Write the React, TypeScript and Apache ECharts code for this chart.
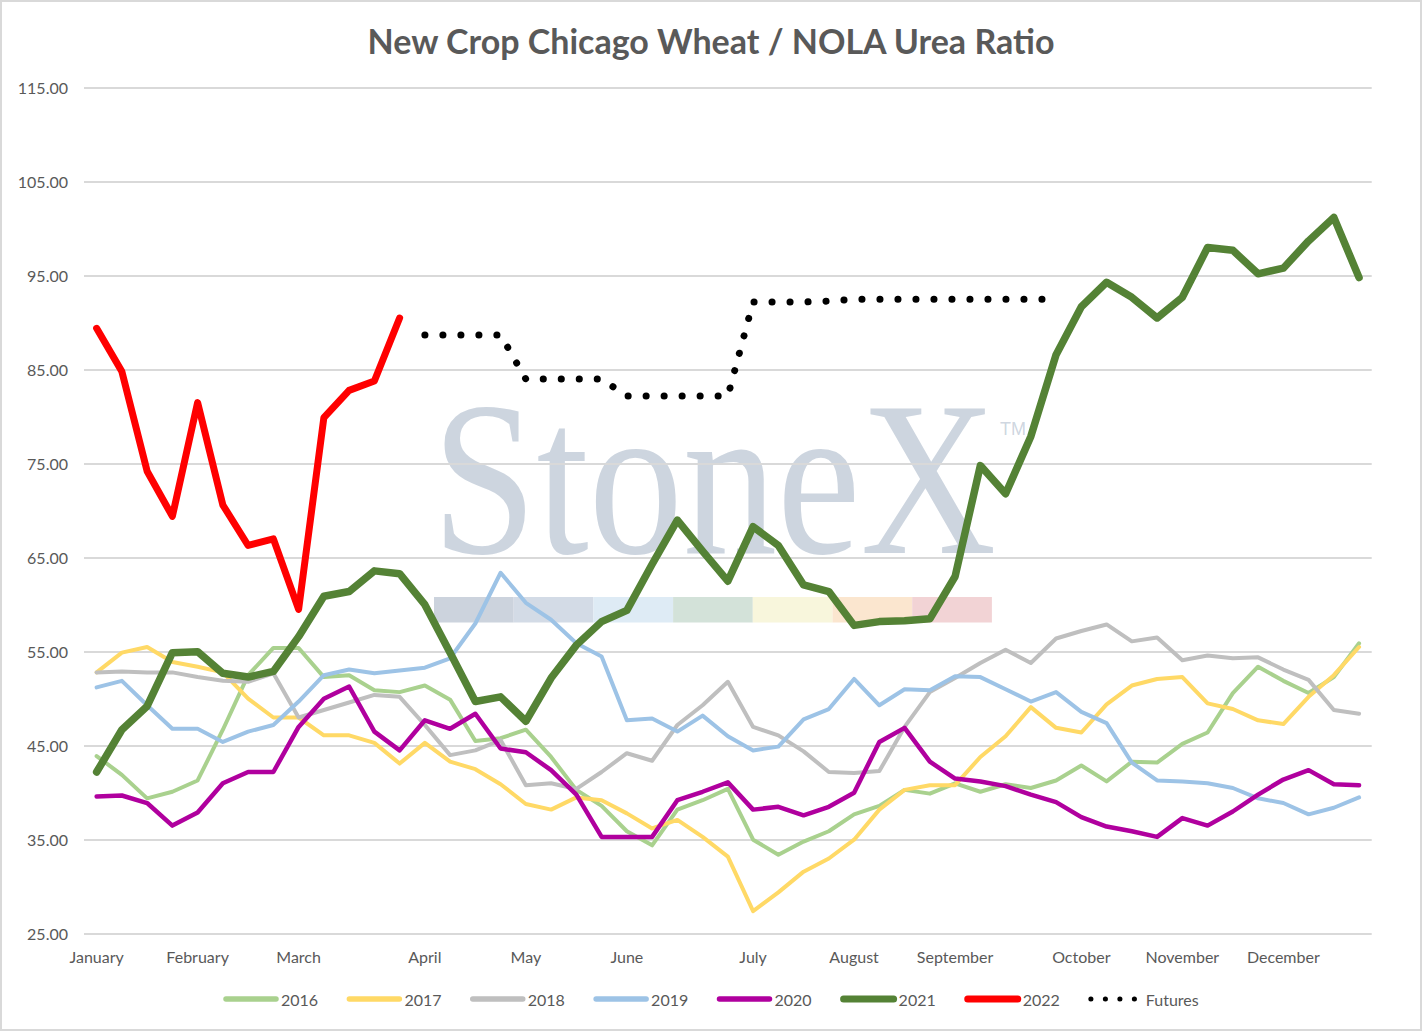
import React, { useEffect, useRef } from "react";
import * as echarts from "echarts";

// ---- Data ----
const monthNames = ["January", "February", "March", "April", "May", "June", "July", "August", "September", "October", "November", "December"];
const monthStartWeek = [0, 4, 8, 13, 17, 21, 26, 30, 34, 39, 43, 47];
const weekCount = 51;

const y2016 = [43.9, 41.9, 39.4, 40.1, 41.3, 46.7, 52.5, 55.4, 55.4, 52.3, 52.5, 50.9, 50.7, 51.4, 49.9, 45.5, 45.8, 46.7, 43.8, 40.3, 38.6, 35.9, 34.4, 38.2, 39.2, 40.4, 35.0, 33.4, 34.8, 35.9, 37.7, 38.6, 40.3, 39.9, 41.0, 40.1, 40.9, 40.5, 41.3, 42.9, 41.2, 43.3, 43.2, 45.2, 46.4, 50.6, 53.4, 51.9, 50.6, 52.3, 55.9];
const y2017 = [52.8, 54.9, 55.5, 53.9, 53.4, 52.8, 50.0, 48.0, 48.0, 46.1, 46.1, 45.3, 43.1, 45.3, 43.3, 42.5, 40.9, 38.8, 38.2, 39.5, 39.2, 37.8, 36.2, 37.1, 35.3, 33.2, 27.4, 29.4, 31.6, 33.0, 35.0, 38.2, 40.3, 40.8, 40.8, 43.8, 46.0, 49.1, 46.9, 46.4, 49.4, 51.4, 52.1, 52.3, 49.5, 48.9, 47.7, 47.3, 50.2, 52.5, 55.5];
const y2018 = [52.8, 52.9, 52.8, 52.8, 52.3, 51.9, 51.8, 52.7, 48.0, 48.8, 49.6, 50.4, 50.2, 47.2, 44.0, 44.5, 45.6, 40.8, 41.0, 40.4, 42.2, 44.2, 43.4, 47.2, 49.3, 51.8, 47.0, 46.1, 44.4, 42.2, 42.1, 42.3, 47.0, 50.7, 52.2, 53.8, 55.2, 53.8, 56.4, 57.2, 57.9, 56.1, 56.5, 54.1, 54.6, 54.3, 54.4, 53.1, 52.0, 48.8, 48.4];
const y2019 = [51.2, 51.9, 49.3, 46.8, 46.8, 45.4, 46.5, 47.2, 49.7, 52.5, 53.1, 52.7, 53.0, 53.3, 54.3, 58.0, 63.4, 60.2, 58.4, 55.9, 54.5, 47.7, 47.9, 46.5, 48.2, 46.0, 44.5, 44.9, 47.8, 48.9, 52.1, 49.3, 51.0, 50.9, 52.4, 52.3, 51.0, 49.7, 50.7, 48.6, 47.4, 43.2, 41.3, 41.2, 41.0, 40.5, 39.4, 38.9, 37.7, 38.4, 39.5];
const y2020 = [39.6, 39.7, 38.9, 36.5, 37.9, 41.0, 42.2, 42.2, 47.0, 50.0, 51.3, 46.5, 44.5, 47.7, 46.8, 48.4, 44.7, 44.3, 42.4, 39.8, 35.3, 35.3, 35.3, 39.2, 40.1, 41.1, 38.2, 38.5, 37.6, 38.5, 40.0, 45.4, 46.9, 43.3, 41.5, 41.2, 40.7, 39.8, 39.0, 37.4, 36.4, 35.9, 35.3, 37.3, 36.5, 38.0, 39.8, 41.4, 42.4, 40.9, 40.8];
const y2021 = [42.2, 46.7, 49.2, 54.9, 55.0, 52.7, 52.3, 52.9, 56.6, 60.9, 61.4, 63.6, 63.3, 60.0, 54.9, 49.7, 50.2, 47.6, 52.2, 55.7, 58.2, 59.4, 64.3, 69.0, 65.7, 62.5, 68.3, 66.3, 62.1, 61.4, 57.8, 58.2, 58.3, 58.5, 63.0, 74.8, 71.8, 77.9, 86.6, 91.7, 94.3, 92.7, 90.5, 92.7, 98.0, 97.7, 95.2, 95.8, 98.7, 101.2, 94.8];
const y2022 = [89.4, 84.8, 74.2, 69.4, 81.5, 70.6, 66.3, 67.0, 59.5, 79.9, 82.8, 83.8, 90.5];
const futuresStartWeek = 13;
const futures = [88.7, 88.7, 88.7, 88.7, 84.0, 84.0, 84.0, 84.0, 82.2, 82.2, 82.2, 82.2, 82.2, 92.2, 92.2, 92.2, 92.3, 92.5, 92.5, 92.5, 92.5, 92.5, 92.5, 92.5, 92.5, 92.5];

const yTicks = { min: 25, max: 115, step: 10 };
const stripeColors = ["#ccd3dd", "#d3dbe6", "#deebf5", "#d3e2d9", "#f8f6dc", "#fbe6cf", "#f2d3d5"];

const categories: string[] = Array.from({ length: weekCount }, (_, i) => {
  const k = monthStartWeek.indexOf(i);
  return k >= 0 ? monthNames[k] : "";
});

const pad = (arr: number[], start: number): (number | null)[] =>
  Array.from({ length: weekCount }, (_, i) => (i >= start && i - start < arr.length ? arr[i - start] : null));

const seriesDefs = [
  { name: "2016", color: "#a9d18e", width: 4, data: pad(y2016, 0) },
  { name: "2017", color: "#ffd966", width: 4, data: pad(y2017, 0) },
  { name: "2018", color: "#bfbfbf", width: 4, data: pad(y2018, 0) },
  { name: "2019", color: "#9dc3e6", width: 4, data: pad(y2019, 0) },
  { name: "2020", color: "#b0009e", width: 4.5, data: pad(y2020, 0) },
  { name: "2021", color: "#548235", width: 7.5, data: pad(y2021, 0) },
  { name: "2022", color: "#ff0000", width: 7, data: pad(y2022, 0) },
  { name: "Futures", color: "#000000", width: 7, data: pad(futures, futuresStartWeek), dotted: true },
];

const FONT = "Lato, 'Open Sans', sans-serif";
const GRAY = "#595959";

export default function App() {
  const ref = useRef<HTMLDivElement | null>(null);

  useEffect(() => {
    document.body.style.margin = "0";
    if (!ref.current) return;
    const chart = echarts.init(ref.current, undefined, { renderer: "svg" });

    const stripeX0 = 432;
    const stripeW = 79.7;

    const option: any = {
      animation: false,
      backgroundColor: "#ffffff",
      textStyle: { fontFamily: FONT },
      title: {
        text: "New Crop Chicago Wheat / NOLA Urea Ratio",
        left: "center",
        top: 16,
        textStyle: { fontFamily: FONT, fontSize: 34, fontWeight: "bold", color: GRAY },
      },
      grid: { left: 82, right: 48.3, top: 85.7, bottom: 95.3, containLabel: false },
      graphic: [
        {
          type: "text",
          x: 430,
          y: 477,
          scaleX: 0.855,
          z: 0,
          silent: true,
          style: {
            text: "StoneX",
            font: "220px 'Liberation Serif', 'DejaVu Serif', serif",
            fill: "rgba(130,150,175,0.4)",
            align: "left",
            verticalAlign: "middle",
          },
        },
        {
          type: "text",
          x: 998,
          y: 427,
          z: 0,
          silent: true,
          style: {
            text: "TM",
            font: "18px 'Liberation Sans', sans-serif",
            fill: "rgba(130,150,175,0.4)",
            align: "left",
            verticalAlign: "middle",
          },
        },
        ...stripeColors.map((c, i) => ({
          type: "rect",
          z: 0,
          silent: true,
          shape: { x: stripeX0 + i * stripeW, y: 595, width: stripeW, height: 25.5 },
          style: { fill: c },
        })),
      ],
      legend: {
        top: 984,
        left: "center",
        itemWidth: 50,
        itemHeight: 14,
        itemGap: 28.5,
        padding: 5,
        textStyle: { color: GRAY, fontSize: 16, fontFamily: FONT },
        itemStyle: { opacity: 0, borderWidth: 0 },
        data: seriesDefs.map((s) => ({
          name: s.name,
          itemStyle: { opacity: 0, borderWidth: 0 },
          lineStyle: s.dotted
            ? { width: 5, type: [0.1, 14.4], cap: "round", color: s.color }
            : { width: s.width >= 7 ? 7 : 5.5, type: "solid", cap: "round", color: s.color },
        })),
      },
      xAxis: {
        type: "category",
        data: categories,
        boundaryGap: true,
        axisLine: { show: false },
        axisTick: { show: false },
        splitLine: { show: false },
        axisLabel: { interval: 0, color: GRAY, fontSize: 16, fontFamily: FONT, margin: 15 },
      },
      yAxis: {
        type: "value",
        min: yTicks.min,
        max: yTicks.max,
        interval: yTicks.step,
        axisLine: { show: false },
        axisTick: { show: false },
        splitLine: { lineStyle: { color: "#d9d9d9", width: 2 } },
        axisLabel: {
          color: GRAY,
          fontSize: 16,
          fontFamily: FONT,
          margin: 16,
          formatter: (v: number) => v.toFixed(2),
        },
      },
      series: seriesDefs.map((s) => ({
        name: s.name,
        type: "line",
        data: s.data,
        symbol: "none",
        showSymbol: false,
        smooth: false,
        connectNulls: false,
        z: 3,
        color: s.color,
        lineStyle: {
          color: s.color,
          width: s.width,
          cap: "round",
          join: "round",
          type: s.dotted ? [0.1, 17.9] : "solid",
        },
        emphasis: { disabled: true },
      })),
    };

    chart.setOption(option);
    return () => chart.dispose();
  }, []);

  return (
    <div
      style={{
        width: 1422,
        height: 1031,
        boxSizing: "border-box",
        border: "2px solid #d9d9d9",
        background: "#fff",
        position: "relative",
      }}
    >
      <div ref={ref} style={{ width: 1418, height: 1027 }} />
    </div>
  );
}
